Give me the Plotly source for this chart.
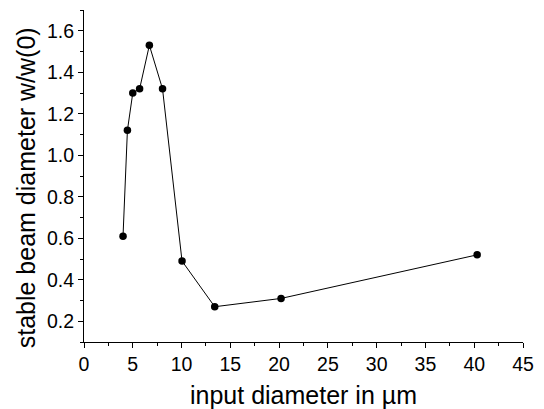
import plotly.graph_objects as go

x_diam = [4.0, 4.45, 5.0, 5.7, 6.7, 8.05, 10.05, 13.4, 20.2, 40.3]
w_ratio = [0.61, 1.12, 1.30, 1.32, 1.53, 1.32, 0.49, 0.27, 0.31, 0.52]
x_title = "input diameter in µm"
y_title = "stable beam diameter w/w(0)"

fig = go.Figure()
fig.add_trace(go.Scatter(
    x=x_diam, y=w_ratio, mode="lines+markers",
    line=dict(color="black", width=1),
    marker=dict(color="black", size=7.5),
    showlegend=False,
))

font = "Liberation Sans, Arial, Helvetica, sans-serif"
tick_font = dict(family=font, size=19.5, color="black")
fig.update_layout(
    xaxis=dict(
        range=[0, 45], dtick=5, tick0=0, tickmode="linear",
        showline=True, linecolor="black", linewidth=1,
        ticks="outside", ticklen=5, tickwidth=1, tickcolor="black",
        showgrid=False, zeroline=False,
        tickfont=tick_font,
        minor=dict(ticks="outside", ticklen=3, dtick=2.5, tick0=0, tickcolor="black", showgrid=False),
    ),
    yaxis=dict(
        range=[0.1, 1.7], dtick=0.2, tick0=0.2, tickmode="linear", tickformat=".1f",
        showline=True, linecolor="black", linewidth=1,
        ticks="outside", ticklen=5, tickwidth=1, tickcolor="black",
        showgrid=False, zeroline=False,
        tickfont=tick_font,
        minor=dict(ticks="outside", ticklen=3, dtick=0.1, tick0=0.1, tickcolor="black", showgrid=False),
    ),
)
fig.add_annotation(
    text=x_title, xref="paper", yref="paper", x=0.5, y=0,
    xanchor="center", yanchor="middle", yshift=-53, showarrow=False,
    font=dict(family=font, size=25, color="black"),
)
fig.add_annotation(
    text=y_title, xref="paper", yref="paper", x=0, y=0.463,
    xanchor="center", yanchor="middle", xshift=-58, textangle=-90, showarrow=False,
    font=dict(family=font, size=25, color="black"),
)
fig.update_layout(
    width=544, height=409,
    margin=dict(l=84, r=12, t=10, b=67),
    plot_bgcolor="white", paper_bgcolor="white",
)
fig.write_html("out.html")
